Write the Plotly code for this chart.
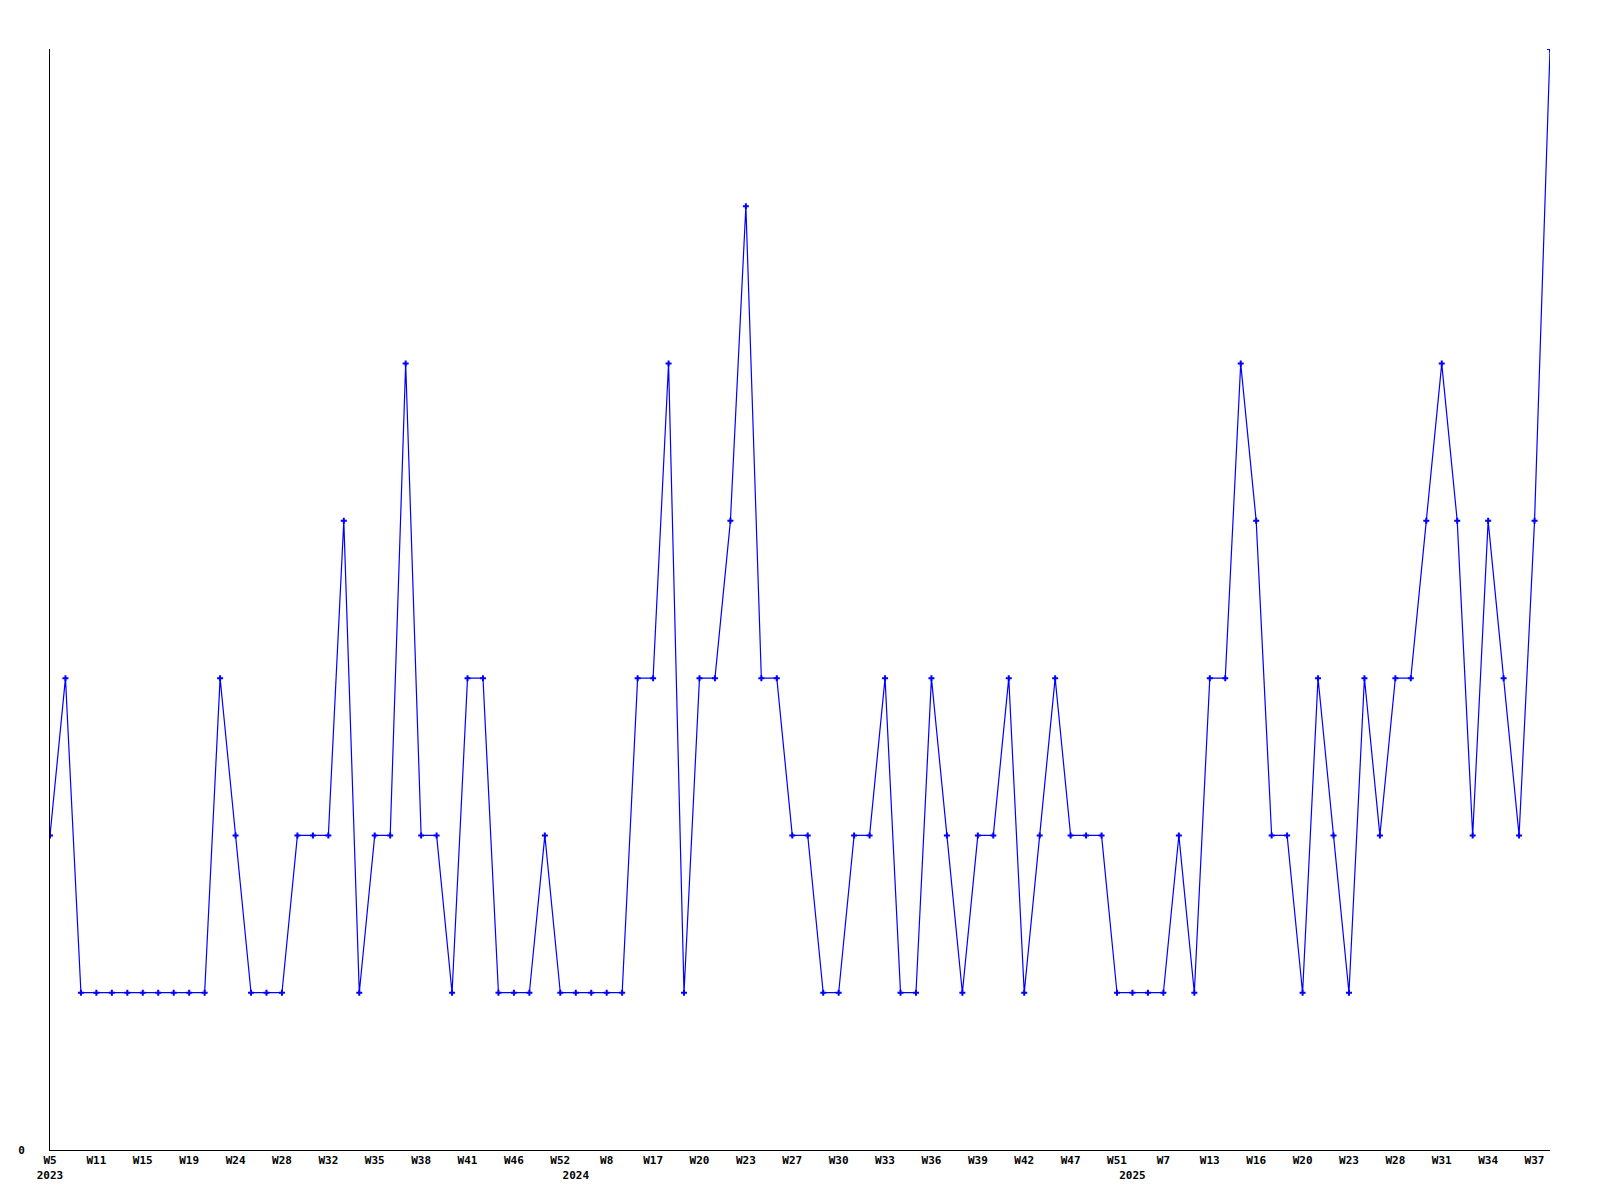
import plotly.graph_objects as go

# Weekly counts (one point per reported week, in order)
values = [2, 3, 1, 1, 1, 1, 1, 1, 1, 1,
          1, 3, 2, 1, 1, 1, 2, 2, 2, 4,
          1, 2, 2, 5, 2, 2, 1, 3, 3, 1,
          1, 1, 2, 1, 1, 1, 1, 1, 3, 3,
          5, 1, 3, 3, 4, 6, 3, 3, 2, 2,
          1, 1, 2, 2, 3, 1, 1, 3, 2, 1,
          2, 2, 3, 1, 2, 3, 2, 2, 2, 1,
          1, 1, 1, 2, 1, 3, 3, 5, 4, 2,
          2, 1, 3, 2, 1, 3, 2, 3, 3, 4,
          5, 4, 2, 4, 3, 2, 4, 7]

# Week tick labels shown on every third point
week_ticks = ["W5", "W11", "W15", "W19", "W24", "W28", "W32", "W35", "W38", "W41",
              "W46", "W52", "W8", "W17", "W20", "W23", "W27", "W30", "W33", "W36",
              "W39", "W42", "W47", "W51", "W7", "W13", "W16", "W20", "W23", "W28",
              "W31", "W34", "W37"]
week_tick_step = 3

# Year labels and the point index where each year starts
years = ["2023", "2024", "2025"]
year_start_index = [0, 34, 70]

x = list(range(len(values)))

tickvals = []
ticktext = []
for k, lab in enumerate(week_ticks):
    idx = k * week_tick_step
    txt = lab
    if idx in year_start_index:
        txt = lab + "<br>" + years[year_start_index.index(idx)]
    tickvals.append(idx)
    ticktext.append(txt)
for yr, idx in zip(years, year_start_index):
    if idx not in tickvals:
        tickvals.append(idx)
        ticktext.append(" <br>" + yr)

fig = go.Figure()
fig.add_trace(go.Scatter(
    x=x, y=values, mode="lines+markers",
    line=dict(color="#0000ff", width=1.2),
    marker=dict(symbol="cross", size=5, color="#0000ff", line=dict(width=0)),
    hoverinfo="skip", showlegend=False,
))

font = dict(family="DejaVu Sans Mono", size=11, color="#000000", weight="bold")

fig.update_layout(
    width=1600, height=1200,
    margin=dict(l=42, r=58, t=41, b=58, autoexpand=False),
    paper_bgcolor="white", plot_bgcolor="white",
    xaxis=dict(
        range=[0, len(values) - 1],
        tickvals=tickvals, ticktext=ticktext,
        showgrid=False, zeroline=False,
        showline=True, linecolor="#000000", linewidth=1,
        ticks="", tickfont=font, tickangle=0,
    ),
    yaxis=dict(
        range=[0, 7],
        tickvals=[0], ticktext=["0"],
        showgrid=False, zeroline=False,
        showline=True, linecolor="#000000", linewidth=1,
        ticks="", tickfont=font, ticklabelstandoff=22,
    ),
)

fig.write_html("out.html")
